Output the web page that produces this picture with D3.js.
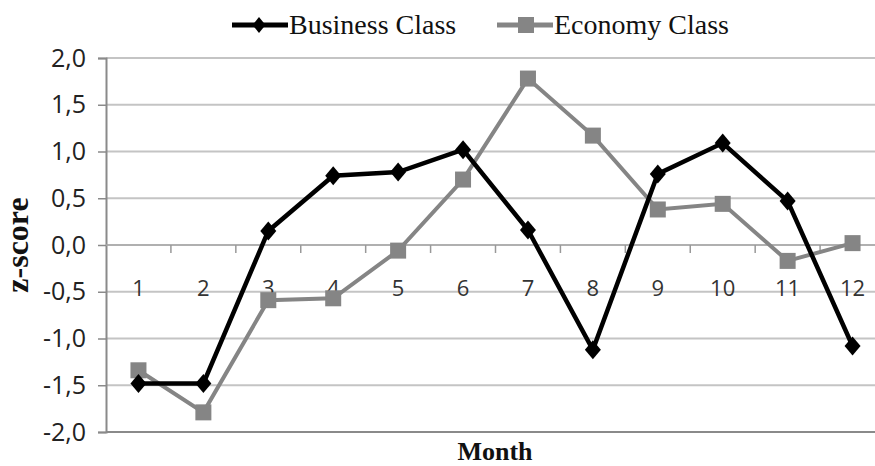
<!DOCTYPE html>
<html>
<head>
<meta charset="utf-8">
<script src="https://cdnjs.cloudflare.com/ajax/libs/d3/7.8.5/d3.min.js"></script>
<style>
  body { margin: 0; background: #fff; }
  svg { display: block; }
</style>
</head>
<body>
<svg id="chart"></svg>
<script>
var months = ["1", "2", "3", "4", "5", "6", "7", "8", "9", "10", "11", "12"];
var business = [-1.48, -1.48, 0.15, 0.74, 0.78, 1.02, 0.16, -1.12, 0.76, 1.09, 0.47, -1.08];
var economy = [-1.34, -1.79, -0.59, -0.57, -0.06, 0.70, 1.78, 1.17, 0.38, 0.44, -0.17, 0.02];
var yTicks = [-2, -1.5, -1, -0.5, 0, 0.5, 1, 1.5, 2];
var seriesNames = ["Business Class", "Economy Class"];

var width = 875, height = 466;
var margin = { top: 58, right: -10, bottom: 34, left: 106 };

var svg = d3.select("#chart")
  .attr("width", width)
  .attr("height", height);

var x = d3.scaleBand()
  .domain(months)
  .range([margin.left, width - margin.right])
  .paddingInner(0).paddingOuter(0);
var y = d3.scaleLinear()
  .domain([-2, 2])
  .range([height - margin.bottom, margin.top]);

var fmt = function(d) { return d3.format(".1f")(d).replace(".", ",").replace("−", "-"); };

// tall diamond marker
var diamondPath = function(w, h) {
  return "M0," + (-h / 2) + "L" + (w / 2) + ",0L0," + (h / 2) + "L" + (-w / 2) + ",0Z";
};

// gridlines
svg.append("g")
  .selectAll("line")
  .data(yTicks)
  .enter().append("line")
  .attr("x1", margin.left)
  .attr("x2", width)
  .attr("y1", function(d) { return y(d); })
  .attr("y2", function(d) { return y(d); })
  .attr("stroke", function(d) { return d === -2 ? "#8a8a8a" : "#c4c4c4"; })
  .attr("stroke-width", 2);

// y axis
var yAxis = svg.append("g")
  .attr("transform", "translate(" + margin.left + ",0)")
  .call(d3.axisLeft(y).tickValues(yTicks).tickFormat(fmt).tickSize(8).tickPadding(12));
yAxis.select(".domain").attr("stroke", "#8a8a8a").attr("stroke-width", 2);
yAxis.selectAll(".tick line").attr("stroke", "#8a8a8a").attr("stroke-width", 1.5);
yAxis.selectAll("text")
  .attr("font-family", "'Open Sans', sans-serif")
  .attr("font-size", 25)
  .attr("fill", "#222");

// x axis at zero, ticks between categories
var xAxisG = svg.append("g")
  .attr("transform", "translate(0," + y(0) + ")");
xAxisG.append("line")
  .attr("x1", margin.left).attr("x2", width)
  .attr("stroke", "#aaa").attr("stroke-width", 1.5);
xAxisG.selectAll(".tk")
  .data(months.slice(1))
  .enter().append("line")
  .attr("x1", function(d) { return x(d); })
  .attr("x2", function(d) { return x(d); })
  .attr("y1", 0).attr("y2", 8)
  .attr("stroke", "#999").attr("stroke-width", 1.5);
xAxisG.selectAll("text")
  .data(months)
  .enter().append("text")
  .attr("x", function(d) { return x(d) + x.bandwidth() / 2; })
  .attr("y", 51)
  .attr("text-anchor", "middle")
  .attr("font-family", "'Open Sans', sans-serif")
  .attr("font-size", 22)
  .attr("fill", "#333")
  .text(function(d) { return d; });

// lines
var line = d3.line()
  .x(function(d, i) { return x(months[i]) + x.bandwidth() / 2; })
  .y(function(d) { return y(d); });

svg.append("path")
  .datum(economy)
  .attr("fill", "none")
  .attr("stroke", "#858585")
  .attr("stroke-width", 4)
  .attr("d", line);

svg.append("path")
  .datum(business)
  .attr("fill", "none")
  .attr("stroke", "#000")
  .attr("stroke-width", 4.5)
  .attr("d", line);

// markers
svg.append("g").selectAll("rect")
  .data(economy)
  .enter().append("rect")
  .attr("x", function(d, i) { return x(months[i]) + x.bandwidth() / 2 - 8; })
  .attr("y", function(d) { return y(d) - 8; })
  .attr("width", 16).attr("height", 16)
  .attr("fill", "#858585");

svg.append("g").selectAll("path")
  .data(business)
  .enter().append("path")
  .attr("transform", function(d, i) {
    return "translate(" + (x(months[i]) + x.bandwidth() / 2) + "," + y(d) + ")";
  })
  .attr("d", diamondPath(16, 19))
  .attr("fill", "#000");

// legend
var legend = svg.append("g");
var legItems = [
  { name: seriesNames[0], x: 232, color: "#000", shape: "diamond" },
  { name: seriesNames[1], x: 497, color: "#858585", shape: "square" }
];
legItems.forEach(function(it) {
  var g = legend.append("g").attr("transform", "translate(" + it.x + ",25)");
  g.append("line").attr("x1", 0).attr("x2", 56)
    .attr("stroke", it.color).attr("stroke-width", 5);
  if (it.shape === "diamond") {
    g.append("path").attr("transform", "translate(27,0)").attr("d", diamondPath(13, 16)).attr("fill", it.color);
  } else {
    g.append("rect").attr("x", 21).attr("y", -8).attr("width", 16).attr("height", 16).attr("fill", it.color);
  }
  g.append("text")
    .attr("x", 57).attr("y", 9)
    .attr("font-family", "'Liberation Serif', serif")
    .attr("font-size", 28)
    .attr("fill", "#111")
    .text(it.name);
});

// axis titles
svg.append("text")
  .attr("transform", "translate(28," + y(0) + ") rotate(-90)")
  .attr("text-anchor", "middle")
  .attr("font-family", "'Liberation Serif', serif")
  .attr("font-weight", "bold")
  .attr("font-size", 32)
  .attr("fill", "#111")
  .text("z-score");

svg.append("text")
  .attr("x", 495).attr("y", 460)
  .attr("text-anchor", "middle")
  .attr("font-family", "'Liberation Serif', serif")
  .attr("font-weight", "bold")
  .attr("font-size", 26)
  .attr("fill", "#111")
  .text("Month");
</script>
</body>
</html>
